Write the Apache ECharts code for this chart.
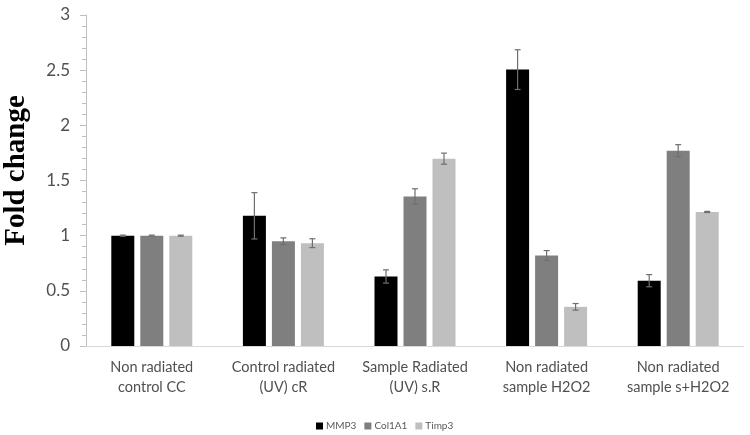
<!DOCTYPE html>
<html><head><meta charset="utf-8">
<script src="https://cdn.jsdelivr.net/npm/echarts@6/dist/echarts.min.js"></script>
<style>html,body{margin:0;padding:0;background:#fff}#c{width:750px;height:435px}</style>
</head><body><div id="c"></div>
<script>
const categories = ['Non radiated\ncontrol CC','Control radiated\n(UV) cR','Sample Radiated\n(UV) s.R','Non radiated\nsample H2O2','Non radiated\nsample s+H2O2'];
const seriesNames = ['MMP3','Col1A1','Timp3'];
const mmp3 = [1.0, 1.18, 0.63, 2.505, 0.592];
const col1a1 = [1.0, 0.95, 1.355, 0.82, 1.77];
const timp3 = [1.0, 0.932, 1.698, 0.355, 1.215];
const mmp3Err = [0.005, 0.21, 0.06, 0.18, 0.055];
const col1a1Err = [0.005, 0.03, 0.07, 0.045, 0.055];
const timp3Err = [0.005, 0.04, 0.05, 0.03, 0.005];
const yTicks = [0, 0.5, 1, 1.5, 2, 2.5, 3];

const values = [mmp3, col1a1, timp3];
const errs = [mmp3Err, col1a1Err, timp3Err];
const colors = ['#000000', '#7f7f7f', '#bfbfbf'];
const BAR_W = 23, GAP = 6;

const series = [];
values.forEach((v, i) => {
  series.push({
    name: seriesNames[i], type: 'bar', data: v, barWidth: BAR_W, barGap: (GAP / BAR_W * 100) + '%',
    itemStyle: { color: colors[i] }
  });
});
values.forEach((v, i) => {
  const off = (i - 1) * (BAR_W + GAP);
  series.push({
    type: 'custom', name: seriesNames[i] + ' err', z: 10,
    data: v.map((val, k) => [k, val, errs[i][k]]),
    renderItem: function (params, api) {
      const k = api.value(0), val = api.value(1), e = api.value(2);
      const hi = api.coord([k, val + e]);
      const lo = api.coord([k, val - e]);
      const x = hi[0] + off;
      const cap = 3;
      const st = { stroke: '#6f6f6f', lineWidth: 1.2 };
      return { type: 'group', children: [
        { type: 'line', shape: { x1: x, y1: hi[1], x2: x, y2: lo[1] }, style: st },
        { type: 'line', shape: { x1: x - cap, y1: hi[1], x2: x + cap, y2: hi[1] }, style: st },
        { type: 'line', shape: { x1: x - cap, y1: lo[1], x2: x + cap, y2: lo[1] }, style: st }
      ]};
    },
    silent: true
  });
});

const chart = echarts.init(document.getElementById('c'), null, { renderer: 'canvas' });
chart.setOption({
  animation: false,
  grid: { left: 86, right: 6, top: 15, bottom: 89, containLabel: false, outerBoundsMode: 'none' },
  legend: {
    data: seriesNames, top: 421, left: 316, padding: 0, itemWidth: 7, itemHeight: 7, itemGap: 8,
    icon: 'rect', textStyle: { fontFamily: 'Lato', fontSize: 10, color: '#595959', padding: [0,0,0,-2] }
  },
  xAxis: {
    type: 'category', data: categories,
    axisLine: { lineStyle: { color: '#d9d9d9', width: 1 } },
    axisTick: { show: false },
    axisLabel: { fontFamily: 'Lato', fontSize: 14.5, color: '#505050', lineHeight: 20, margin: 11, interval: 0 }
  },
  yAxis: {
    type: 'value', min: 0, max: 3, interval: 0.5,
    name: 'Fold change', nameLocation: 'middle', nameGap: 55, nameRotate: 90,
    nameTextStyle: { fontFamily: 'Liberation Serif', fontWeight: 'bold', fontSize: 29, color: '#000', padding: [0, 0, 0, 20] },
    axisLine: { show: true, lineStyle: { color: '#bfbfbf' } },
    axisTick: { show: true, length: 6, lineStyle: { color: '#bfbfbf' } },
    minorTick: { show: true, splitNumber: 5, length: 4, lineStyle: { color: '#bfbfbf' } },
    splitLine: { show: false },
    axisLabel: { fontFamily: 'Lato', fontSize: 17, color: '#505050', margin: 16,
      formatter: v => yTicks.includes(v) ? String(v) : '' }
  },
  series: series
});
</script></body></html>
